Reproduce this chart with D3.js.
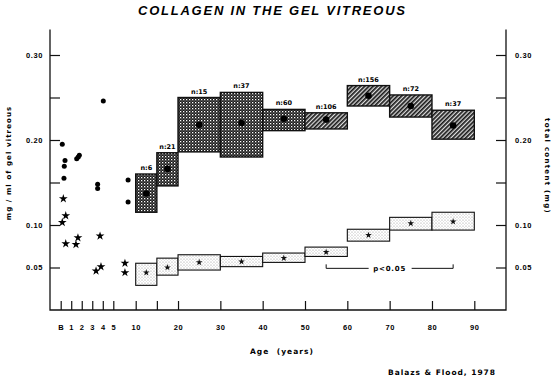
<!DOCTYPE html>
<html>
<head>
<meta charset="utf-8">
<script src="https://cdn.jsdelivr.net/npm/d3@7"></script>
<style>
  body { margin: 0; background: #fff; }
  svg { display: block; font-family: "DejaVu Sans", sans-serif; }
  .tick text { font-size: 7.5px; font-weight: bold; }
  .tick line { stroke: #111; stroke-width: 1.2; }
  .frame { stroke: #111; stroke-width: 1.3; fill: none; }
</style>
</head>
<body>
<div id="chart"></div>
<script>
// age groups (years) and sample sizes for the adult bins
const ageBins = [[10, 15], [15, 20], [20, 30], [30, 40], [40, 50], [50, 60], [60, 70], [70, 80], [80, 90]];
const binCounts = [6, 21, 15, 37, 60, 106, 156, 72, 37];

// collagen concentration, mg/ml of gel vitreous (left axis)
const concMean = [0.137, 0.166, 0.218, 0.220, 0.225, 0.224, 0.252, 0.240, 0.217];
const concLow = [0.115, 0.146, 0.186, 0.180, 0.211, 0.213, 0.240, 0.227, 0.201];
const concHigh = [0.160, 0.185, 0.250, 0.256, 0.236, 0.232, 0.264, 0.253, 0.235];

// total collagen content, mg (right axis)
const totalMean = [0.044, 0.050, 0.056, 0.057, 0.061, 0.068, 0.088, 0.102, 0.104];
const totalLow = [0.029, 0.041, 0.047, 0.051, 0.056, 0.063, 0.081, 0.094, 0.094];
const totalHigh = [0.055, 0.061, 0.065, 0.063, 0.067, 0.074, 0.095, 0.109, 0.115];

// single eyes, birth to ~9 years
const childConcAge = [0.15, 0.41, 0.34, 0.31, 1.52, 1.67, 1.77, 3.51, 3.51, 4.05, 8.3, 8.3];
const childConc = [0.195, 0.176, 0.169, 0.155, 0.178, 0.180, 0.182, 0.148, 0.143, 0.246, 0.153, 0.127];
const childTotalAge = [0.25, 0.48, 0.15, 0.48, 1.45, 1.64, 3.74, 3.36, 3.83, 7.6, 7.6];
const childTotal = [0.131, 0.111, 0.103, 0.078, 0.077, 0.085, 0.087, 0.046, 0.051, 0.055, 0.044];

// significance bracket
const pRange = [55, 85];
const pLevel = 0.049;
const pLabel = "p<0.05";

// ticks
const ageTicks = [0, 1, 2, 3, 4, 5, 10, 15, 20, 30, 40, 50, 60, 70, 80, 90];
const ageTickLabels = ["B", "1", "2", "3", "4", "5", "10", "", "20", "30", "40", "50", "60", "70", "80", "90"];
const valueTicks = [0.05, 0.10, 0.15, 0.20, 0.25, 0.30];
const valueTickLabels = ["0.05", "0.10", "", "0.20", "", "0.30"];

const width = 557;
const height = 376;
const left = 50, right = 506, bottom = 310;

// the first five years are stretched out
const x = d3.scaleLinear().domain([0, 5, 10, 90]).range([60.7, 113.3, 135.7, 474.3]);
const y = d3.scaleLinear().domain([0, 0.33]).range([bottom, 29.5]);

const svg = d3.select("#chart")
  .append("svg")
  .attr("width", width)
  .attr("height", height)
  .attr("viewBox", [0, 0, width, height]);

// fill patterns
const defs = svg.append("defs");
const cross = defs.append("pattern")
  .attr("id", "cross")
  .attr("patternUnits", "userSpaceOnUse")
  .attr("width", 3).attr("height", 3);
cross.append("rect").attr("width", 3).attr("height", 3).attr("fill", "#1a1a1a");
cross.append("rect").attr("width", 1.3).attr("height", 1.3).attr("fill", "#fff");
cross.append("rect").attr("x", 1.5).attr("y", 1.5).attr("width", 1.1).attr("height", 1.1).attr("fill", "#999");

const diag = defs.append("pattern")
  .attr("id", "diag")
  .attr("patternUnits", "userSpaceOnUse")
  .attr("width", 3).attr("height", 3)
  .attr("patternTransform", "rotate(45)");
diag.append("rect").attr("width", 3).attr("height", 3).attr("fill", "#ddd");
diag.append("rect").attr("width", 1.7).attr("height", 3).attr("fill", "#1a1a1a");

const dots = defs.append("pattern")
  .attr("id", "dots")
  .attr("patternUnits", "userSpaceOnUse")
  .attr("width", 3).attr("height", 3);
dots.append("rect").attr("width", 3).attr("height", 3).attr("fill", "#fff");
dots.append("circle").attr("cx", 1).attr("cy", 1).attr("r", 0.6).attr("fill", "#999");
dots.append("circle").attr("cx", 2.5).attr("cy", 2.5).attr("r", 0.4).attr("fill", "#bbb");

// title
svg.append("text")
  .attr("x", 138)
  .attr("y", 15)
  .attr("textLength", 267)
  .attr("lengthAdjust", "spacing")
  .style("font-family", "'Liberation Sans', Arial, sans-serif")
  .style("font-weight", "bold")
  .style("font-style", "italic")
  .style("font-size", "13px")
  .text("COLLAGEN IN THE GEL VITREOUS");

// frame
svg.append("path")
  .attr("class", "frame")
  .attr("d", `M${left},${y(0.33)}V${bottom}H${right}V${y(0.33)}`);

// left axis
svg.append("g")
  .attr("transform", `translate(${left},0)`)
  .call(d3.axisLeft(y)
    .tickValues(valueTicks)
    .tickSizeInner(-10)
    .tickSizeOuter(0)
    .tickPadding(7)
    .tickFormat((d, i) => valueTickLabels[i]))
  .call(g => g.select(".domain").remove());

// right axis
svg.append("g")
  .attr("transform", `translate(${right},0)`)
  .call(d3.axisRight(y)
    .tickValues(valueTicks)
    .tickSizeInner(-10)
    .tickSizeOuter(0)
    .tickPadding(9)
    .tickFormat((d, i) => valueTickLabels[i]))
  .call(g => g.select(".domain").remove());

// age axis
svg.append("g")
  .attr("transform", `translate(0,${bottom})`)
  .call(d3.axisBottom(x)
    .tickValues(ageTicks)
    .tickSizeInner(-9)
    .tickSizeOuter(0)
    .tickPadding(15)
    .tickFormat((d, i) => ageTickLabels[i]))
  .call(g => g.select(".domain").remove());

svg.selectAll(".tick text").style("letter-spacing", "0.6px");

// axis titles
svg.append("text")
  .attr("transform", "translate(11,163) rotate(-90)")
  .attr("text-anchor", "middle")
  .style("font-size", "7px")
  .style("font-weight", "bold")
  .style("letter-spacing", "1.1px")
  .text("mg / ml of gel vitreous");

svg.append("text")
  .attr("transform", "translate(545,166) rotate(90)")
  .attr("text-anchor", "middle")
  .style("font-size", "7px")
  .style("font-weight", "bold")
  .style("letter-spacing", "1.3px")
  .text("total content (mg)");

svg.append("text")
  .attr("x", 250)
  .attr("y", 354)
  .attr("textLength", 63)
  .attr("lengthAdjust", "spacing")
  .style("font-size", "7.5px")
  .style("font-weight", "bold")
  .style("white-space", "pre")
  .text("Age  (years)");

svg.append("text")
  .attr("x", 388)
  .attr("y", 375)
  .attr("textLength", 107)
  .attr("lengthAdjust", "spacing")
  .style("font-size", "7.5px")
  .style("font-weight", "bold")
  .text("Balazs & Flood, 1978");

// total content boxes
svg.append("g")
  .selectAll("rect")
  .data(ageBins)
  .join("rect")
    .attr("x", d => x(d[0]))
    .attr("width", d => x(d[1]) - x(d[0]))
    .attr("y", (d, i) => y(totalHigh[i]))
    .attr("height", (d, i) => y(totalLow[i]) - y(totalHigh[i]))
    .attr("fill", "url(#dots)")
    .attr("stroke", "#111")
    .attr("stroke-width", 1.1);

svg.append("g")
  .selectAll("path")
  .data(ageBins)
  .join("path")
    .attr("transform", (d, i) => `translate(${x((d[0] + d[1]) / 2)},${y(totalMean[i])})`)
    .attr("d", d3.symbol(d3.symbolStar, 14))
    .attr("fill", "#111");

// concentration boxes
svg.append("g")
  .selectAll("rect")
  .data(ageBins)
  .join("rect")
    .attr("x", d => x(d[0]))
    .attr("width", d => x(d[1]) - x(d[0]))
    .attr("y", (d, i) => y(concHigh[i]))
    .attr("height", (d, i) => y(concLow[i]) - y(concHigh[i]))
    .attr("fill", (d, i) => i < 5 ? "url(#cross)" : "url(#diag)")
    .attr("stroke", "#111")
    .attr("stroke-width", 1.4);

svg.append("g")
  .selectAll("circle")
  .data(ageBins)
  .join("circle")
    .attr("cx", d => x((d[0] + d[1]) / 2))
    .attr("cy", (d, i) => y(concMean[i]))
    .attr("r", 3.3)
    .attr("fill", "#000");

svg.append("g")
  .selectAll("text")
  .data(ageBins)
  .join("text")
    .attr("x", d => x((d[0] + d[1]) / 2))
    .attr("y", (d, i) => y(concHigh[i]) - 4)
    .attr("text-anchor", "middle")
    .style("font-size", "6.5px")
    .style("font-weight", "bold")
    .text((d, i) => `n:${binCounts[i]}`);

// individual young eyes
svg.append("g")
  .selectAll("circle")
  .data(childConc)
  .join("circle")
    .attr("cx", (d, i) => x(childConcAge[i]))
    .attr("cy", d => y(d))
    .attr("r", 2.5)
    .attr("fill", "#000");

svg.append("g")
  .selectAll("path")
  .data(childTotal)
  .join("path")
    .attr("transform", (d, i) => `translate(${x(childTotalAge[i])},${y(d)})`)
    .attr("d", d3.symbol(d3.symbolStar, 24))
    .attr("fill", "#000");

// p bracket
const pMid = x((pRange[0] + pRange[1]) / 2);
const py = y(pLevel);
svg.append("path")
  .attr("fill", "none")
  .attr("stroke", "#111")
  .attr("stroke-width", 1)
  .attr("d", `M${x(pRange[0])},${py - 4}V${py}H${pMid - 21}M${pMid + 22},${py}H${x(pRange[1])}V${py - 4}`);

svg.append("text")
  .attr("x", pMid)
  .attr("y", py + 2.5)
  .attr("text-anchor", "middle")
  .style("font-size", "7px")
  .style("font-weight", "bold")
  .style("letter-spacing", "0.8px")
  .text(pLabel);
</script>
</body>
</html>
